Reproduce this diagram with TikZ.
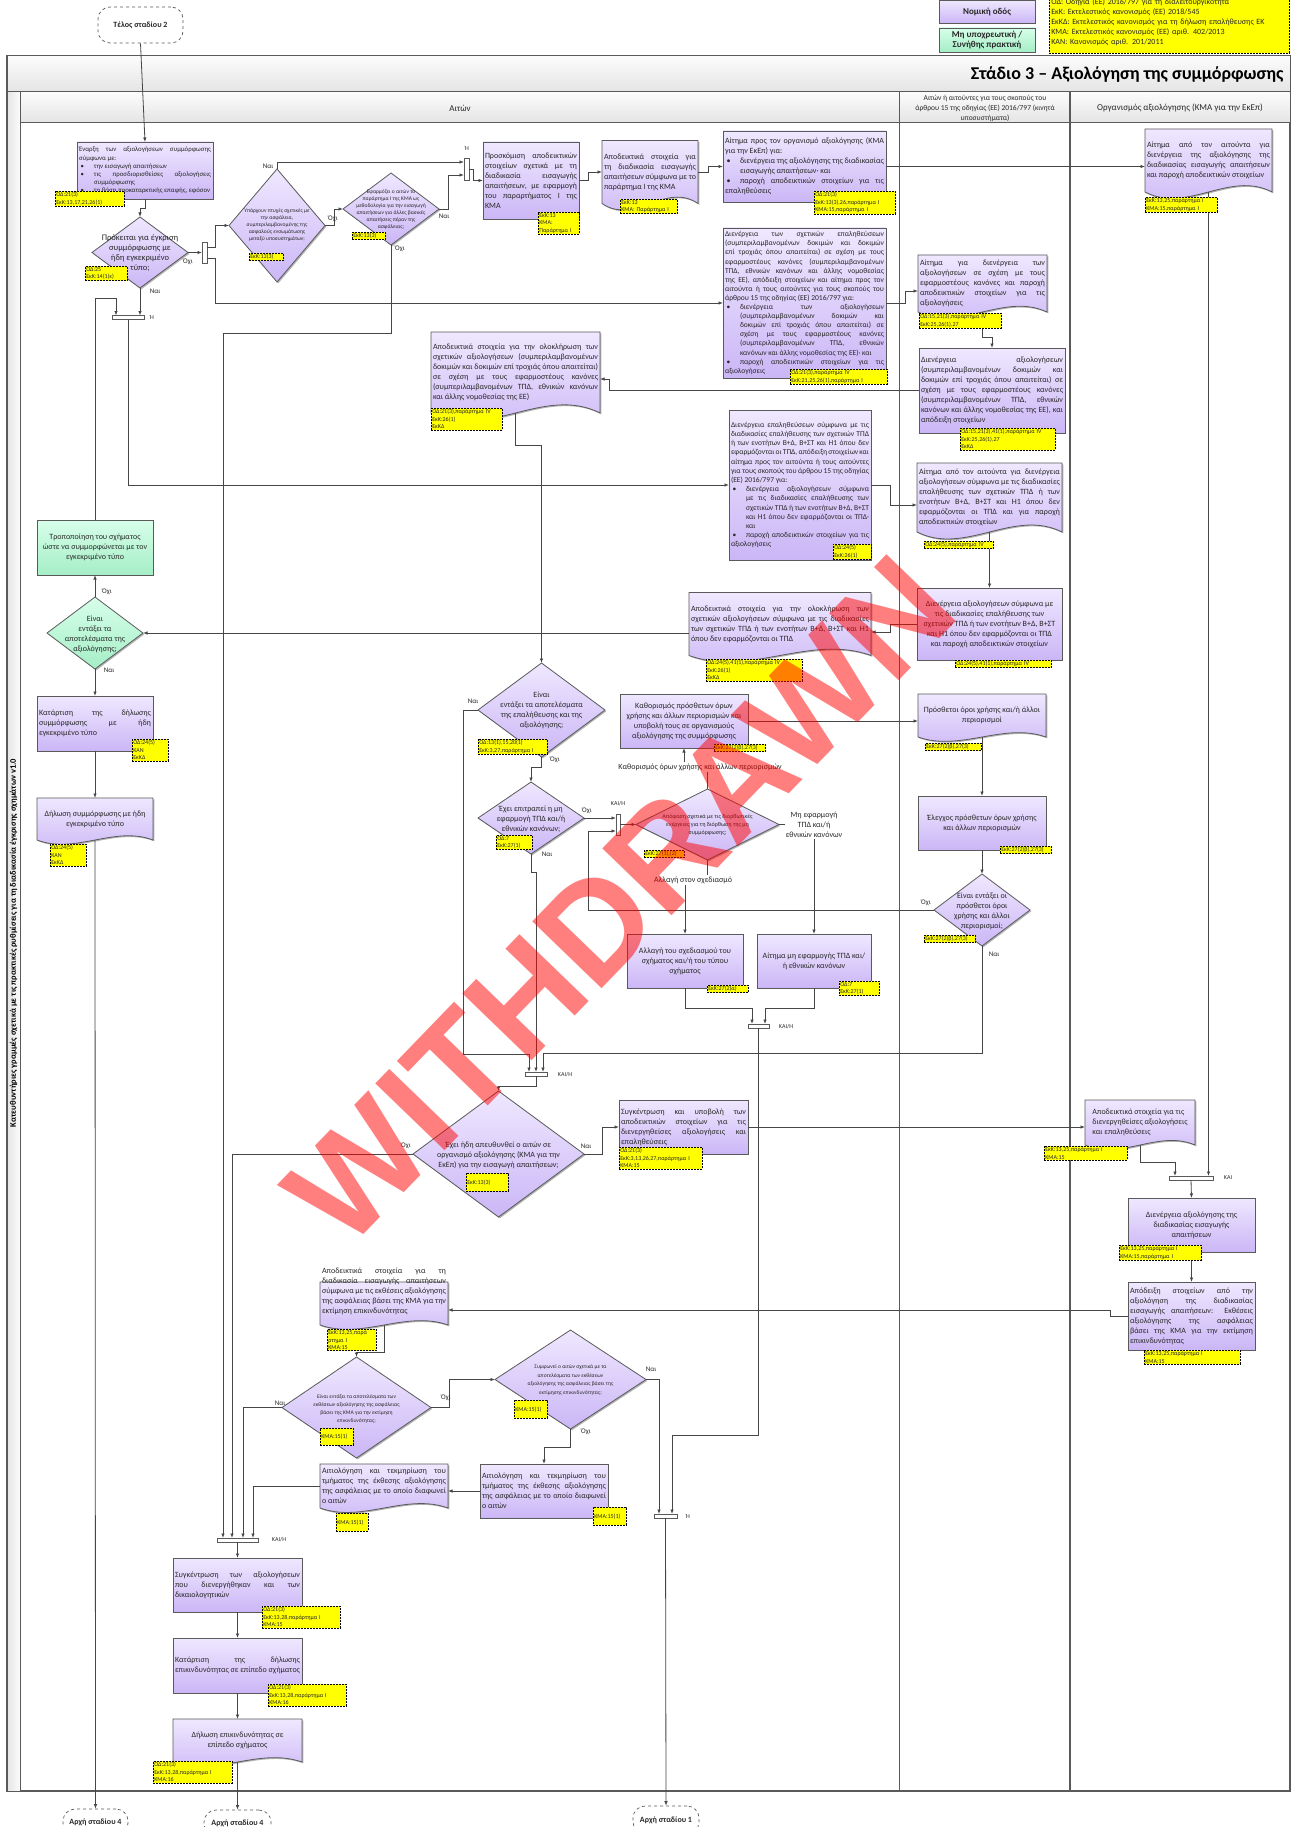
\documentclass[tikz,border=0pt]{standalone}
\usepackage{fontspec}
\setmainfont{Carlito}
\newfontfamily\wmfont{Liberation Sans}
\usetikzlibrary{arrows.meta,shapes.geometric,shadows}

\definecolor{pTop}{RGB}{239,232,255}
\definecolor{pBot}{RGB}{203,182,246}
\definecolor{gTop}{RGB}{215,255,234}
\definecolor{gBot}{RGB}{165,238,198}
\definecolor{bordC}{RGB}{90,90,90}
\definecolor{lineC}{RGB}{70,70,70}
\definecolor{txtC}{RGB}{40,40,40}
\definecolor{hdTop}{RGB}{252,252,252}
\definecolor{hdBot}{RGB}{228,228,228}
\definecolor{tagY}{RGB}{255,255,0}

\hyphenpenalty=10000
\exhyphenpenalty=10000
\tolerance=9999
\emergencystretch=10pt
\hbadness=10000
\hfuzz=60pt

\newcommand\fsz[2]{\fontsize{#1}{#2}\selectfont}
\newcommand\bitem{\par\hangindent=15pt\hangafter=1\noindent\makebox[15pt][l]{\hspace{1.5pt}\textbullet}}

\newdimen\wvL \newdimen\wvR \newdimen\wvB \newdimen\wvT
\newdimen\wvW \newdimen\wvA \newdimen\wvP \newdimen\wvQ
\newdimen\wvU \newdimen\wvD
\makeatletter
\pgfdeclareshape{document}{
  \inheritsavedanchors[from=rectangle]
  \inheritanchorborder[from=rectangle]
  \inheritanchor[from=rectangle]{center}
  \inheritanchor[from=rectangle]{north}
  \inheritanchor[from=rectangle]{south}
  \inheritanchor[from=rectangle]{east}
  \inheritanchor[from=rectangle]{west}
  \inheritanchor[from=rectangle]{north east}
  \inheritanchor[from=rectangle]{north west}
  \inheritanchor[from=rectangle]{south east}
  \inheritanchor[from=rectangle]{south west}
  \inheritanchor[from=rectangle]{mid}
  \inheritanchor[from=rectangle]{base}
  \backgroundpath{%
    \southwest\wvL=\pgf@x\wvB=\pgf@y
    \northeast\wvR=\pgf@x\wvT=\pgf@y
    \wvW=\wvR\advance\wvW by-\wvL\divide\wvW by 3
    \wvA=\wvT\advance\wvA by-\wvB\wvA=0.35\wvA
    \wvP=\wvR\advance\wvP by-\wvW
    \wvQ=\wvL\advance\wvQ by\wvW
    \wvU=\wvB\advance\wvU by\wvA
    \wvD=\wvB\advance\wvD by-\wvA
    \pgfpathmoveto{\pgfqpoint{\wvL}{\wvT}}%
    \pgfpathlineto{\pgfqpoint{\wvR}{\wvT}}%
    \pgfpathlineto{\pgfqpoint{\wvR}{\wvB}}%
    \pgfpathcurveto{\pgfqpoint{\wvP}{\wvU}}{\pgfqpoint{\wvQ}{\wvD}}{\pgfqpoint{\wvL}{\wvB}}%
    \pgfpathclose
  }
}
\makeatother

\begin{document}
\begin{tikzpicture}[x=1pt, y=-1pt,
  shade1/.style={drop shadow={shadow xshift=1.3pt, shadow yshift=-1.3pt, opacity=0.3, fill=black}},
  box/.style={rectangle, draw=bordC, line width=0.8pt, top color=pTop, bottom color=pBot, shade1, inner sep=2pt, outer sep=0pt, align=justify, text=txtC, font=\fsz{8}{10}},
  gbox/.style={box, top color=gTop, bottom color=gBot},
  doc/.style={shape=document, draw=bordC, line width=0.8pt, top color=pTop, bottom color=pBot, shade1, inner sep=2pt, outer sep=0pt, align=justify, text=txtC, font=\fsz{8}{10}},
  dec/.style={diamond, draw=bordC, line width=0.8pt, top color=pTop, bottom color=pBot, shade1, inner sep=0pt, outer sep=0pt},
  gdec/.style={dec, top color=gTop, bottom color=gBot},
  dtxt/.style={align=center, inner sep=0pt, text=txtC, font=\fsz{8}{10}},
  ref/.style={rectangle, draw=black, dash pattern=on 2pt off 1pt, line width=0.6pt, fill=tagY, inner sep=1pt, anchor=north west, align=left, font=\fsz{6}{7.6}, text=txtC},
  bar/.style={rectangle, draw=bordC, line width=0.7pt, fill=white, inner sep=0pt, outer sep=0pt},
  term/.style={rectangle, rounded corners=12pt, draw=bordC, dashed, line width=0.7pt, fill=white, font=\bfseries\fsz{8}{10}, text=txtC},
  yn/.style={inner sep=0pt, font=\fsz{7}{8}, text=txtC},
  gate/.style={inner sep=0pt, font=\fsz{6}{7}, text=txtC},
  lbl/.style={inner sep=1pt, font=\fsz{8}{10}, text=txtC, align=center},
  conn/.style={draw=lineC, line width=0.8pt},
  arr/.style={conn, -{Latex[length=4.5pt,width=3.5pt]}}]
\useasboundingbox (0,0) rectangle (1292,1827);

% pool and lanes
\path[draw=bordC, line width=1.2pt, fill=white] (7,56) rectangle (1290,1791);
\shade[top color=hdTop, bottom color=hdBot, draw=bordC, line width=1pt] (7,56) rectangle (1290,92);
\shade[top color=hdTop, bottom color=hdBot, draw=bordC, line width=1pt] (20,92) rectangle (1290,123);
\shade[left color=hdBot, right color=hdTop, draw=bordC, line width=1pt] (7,92) rectangle (20,1791);
\draw[bordC, line width=1pt] (899,92) -- (899,1791);
\draw[bordC, line width=1.4pt] (1070,92) -- (1070,1791);
\node[anchor=east, font=\bfseries\fsz{18}{20}] (title) at (1287,74) {Στάδιο 3 – Αξιολόγηση της συμμόρφωσης};
\node[font=\fsz{9}{11}, text=txtC] (lane1) at (460,108) {Αιτών};
\node[font=\fsz{7.5}{10}, text=txtC, align=center] (lane2) at (985,108) {Αιτών ή αιτούντες για τους σκοπούς του\\άρθρου 15 της οδηγίας (ΕΕ) 2016/797 (κινητά\\υποσυστήματα)};
\node[font=\fsz{9}{11}, text=txtC] (lane3) at (1180,108) {Οργανισμός αξιολόγησης (ΚΜΑ για την ΕκΕπ)};
\node[rotate=90, font=\bfseries\fsz{8.5}{10}] (pool) at (13.5,943) {Κατευθυντήριες γραμμές σχετικά με τις πρακτικές ρυθμίσεις για τη διαδικασία έγκρισης σχημάτων v1.0};

% legend
\node[box, align=center, font=\bfseries\fsz{9}{11}, minimum width=96, minimum height=23] (legLegal) at (987,11.5) {Νομική οδός};
\node[gbox, align=center, font=\bfseries\fsz{9}{10.5}, minimum width=96, minimum height=24, inner sep=1pt] (legOpt) at (987,40) {Μη υποχρεωτική /\\Συνήθης πρακτική};
\node[ref, font=\fsz{8}{10}, text width=236, minimum height=63, inner sep=2pt] (legAbbr) at (1049,-10) {ΟΔ: Οδηγία (ΕΕ) 2016/797 για τη διαλειτουργικότητα\\ΕκΚ: Εκτελεστικός κανονισμός (ΕΕ) 2018/545\\ΕκΚΔ: Εκτελεστικός κανονισμός για τη δήλωση επαλήθευσης ΕΚ\\ΚΜΑ: Εκτελεστικός κανονισμός (ΕΕ) αριθ. 402/2013\\ΚΑΝ: Κανονισμός αριθ. 201/2011};

% terminals
\node[term, minimum width=85, minimum height=36] (T2) at (140.5,25) {Τέλος σταδίου 2};
\node[term, minimum width=65, minimum height=26] (T4a) at (95.5,1822) {Αρχή σταδίου 4};
\node[term, minimum width=67, minimum height=26] (T4b) at (237.5,1823) {Αρχή σταδίου 4};
\node[term, minimum width=66, minimum height=28] (T1) at (666,1820) {Αρχή σταδίου 1};

% applicant lane
\node[box, minimum width=136, minimum height=57, text width=132, font=\fsz{6.8}{8.2}] (N1) at (145,170.5) {Έναρξη των αξιολογήσεων συμμόρφωσης σύμφωνα με:\bitem την εισαγωγή απαιτήσεων\bitem τις προσδιορισθείσες αξιολογήσεις συμμόρφωσης\bitem τη βάση προκαταρκτικής επαφής, εφόσον};
\node[dec, minimum width=96, minimum height=71] (D1) at (140,252.5) {};
\node[dtxt, font=\fsz{8.5}{10}] (D1t) at (140,253) {Πρόκειται για έγκριση\\συμμόρφωσης με\\ήδη εγκεκριμένο\\τύπο;};
\node[bar, minimum width=5, minimum height=21] (B1) at (204.5,252.5) {};
\node[bar, minimum width=32, minimum height=4] (B2) at (128,317.5) {};
\node[dec, minimum width=96, minimum height=113] (D2) at (277,225.5) {};
\node[dtxt, font=\fsz{5.5}{7}] (D2t) at (277,225) {Υπάρχουν πτυχές σχετικές με\\την ασφάλεια,\\συμπεριλαμβανομένης της\\ασφαλούς ενσωμάτωσης\\μεταξύ υποσυστημάτων;};
\node[dec, minimum width=96, minimum height=72] (D3) at (391,209) {};
\node[dtxt, font=\fsz{5.5}{7}] (D3t) at (391,210) {Εφαρμόζει ο αιτών το\\παράρτημα I της ΚΜΑ ως\\μεθοδολογία για την εισαγωγή\\απαιτήσεων για άλλες βασικές\\απαιτήσεις πέραν της\\ασφάλειας;};
\node[bar, minimum width=5, minimum height=22] (B3) at (466.5,169) {};
\node[box, minimum width=96, minimum height=77, text width=92] (N2) at (531,180.5) {Προσκόμιση αποδεικτικών στοιχείων σχετικά με τη διαδικασία εισαγωγής απαιτήσεων, με εφαρμογή του παραρτήματος I της ΚΜΑ};
\node[doc, minimum width=96, minimum height=63, text width=92] (N3) at (650,172) {Αποδεικτικά στοιχεία για τη διαδικασία εισαγωγής απαιτήσεων σύμφωνα με το παράρτημα I της ΚΜΑ};
\node[box, minimum width=163, minimum height=71, text width=159] (N4) at (804.5,166.5) {Αίτημα προς τον οργανισμό αξιολόγησης (ΚΜΑ για την ΕκΕπ) για:\bitem διενέργεια της αξιολόγησης της διαδικασίας εισαγωγής απαιτήσεων· και\bitem παροχή αποδεικτικών στοιχείων για τις επαληθεύσεις};
\node[box, minimum width=163, minimum height=150, text width=159, font=\fsz{7.5}{9.1}] (N5) at (804.5,303) {Διενέργεια των σχετικών επαληθεύσεων (συμπεριλαμβανομένων δοκιμών και δοκιμών επί τροχιάς όπου απαιτείται) σε σχέση με τους εφαρμοστέους κανόνες (συμπεριλαμβανομένων ΤΠΔ, εθνικών κανόνων και άλλης νομοθεσίας της ΕΕ), απόδειξη στοιχείων και αίτημα προς τον αιτούντα ή τους αιτούντες για τους σκοπούς του άρθρου 15 της οδηγίας (ΕΕ) 2016/797 για:\bitem διενέργεια των αξιολογήσεων (συμπεριλαμβανομένων δοκιμών και δοκιμών επί τροχιάς όπου απαιτείται) σε σχέση με τους εφαρμοστέους κανόνες (συμπεριλαμβανομένων ΤΠΔ, εθνικών κανόνων και άλλης νομοθεσίας της ΕΕ)· και\bitem παροχή αποδεικτικών στοιχείων για τις αξιολογήσεις};
\node[doc, minimum width=169, minimum height=81, text width=165] (N6) at (515.5,372.5) {Αποδεικτικά στοιχεία για την ολοκλήρωση των σχετικών αξιολογήσεων (συμπεριλαμβανομένων δοκιμών και δοκιμών επί τροχιάς όπου απαιτείται) σε σχέση με τους εφαρμοστέους κανόνες (συμπεριλαμβανομένων ΤΠΔ, εθνικών κανόνων και άλλης νομοθεσίας της ΕΕ)};
\node[box, minimum width=142, minimum height=150, text width=138, font=\fsz{7.5}{9.2}] (N7) at (800,485) {Διενέργεια επαληθεύσεων σύμφωνα με τις διαδικασίες επαλήθευσης των σχετικών ΤΠΔ ή των ενοτήτων Β+Δ, Β+ΣΤ και Η1 όπου δεν εφαρμόζονται οι ΤΠΔ, απόδειξη στοιχείων και αίτημα προς τον αιτούντα ή τους αιτούντες για τους σκοπούς του άρθρου 15 της οδηγίας (ΕΕ) 2016/797 για:\bitem διενέργεια αξιολογήσεων σύμφωνα με τις διαδικασίες επαλήθευσης των σχετικών ΤΠΔ ή των ενοτήτων Β+Δ, Β+ΣΤ και Η1 όπου δεν εφαρμόζονται οι ΤΠΔ· και\bitem παροχή αποδεικτικών στοιχείων για τις αξιολογήσεις};
\node[doc, minimum width=182, minimum height=63, text width=178] (N8) at (780,624) {Αποδεικτικά στοιχεία για την ολοκλήρωση των σχετικών αξιολογήσεων σύμφωνα με τις διαδικασίες των σχετικών ΤΠΔ ή των ενοτήτων Β+Δ, Β+ΣΤ και Η1 όπου δεν εφαρμόζονται οι ΤΠΔ};
\node[gbox, minimum width=116, minimum height=55, align=center] (G1) at (95,547.5) {Τροποποίηση του σχήματος\\ώστε να συμμορφώνεται με τον\\εγκεκριμένο τύπο};
\node[gdec, minimum width=96, minimum height=72] (DG) at (95,633) {};
\node[dtxt] (DGt) at (95,634) {Είναι\\εντάξει τα\\αποτελέσματα της\\αξιολόγησης;};
\node[box, minimum width=116, minimum height=55, text width=112] (N9) at (95,723.5) {Κατάρτιση της δήλωσης συμμόρφωσης με ήδη εγκεκριμένο τύπο};
\node[doc, minimum width=116, minimum height=42, align=center] (N10) at (95,819) {Δήλωση συμμόρφωσης με ήδη\\εγκεκριμένο τύπο};
\node[dec, minimum width=127, minimum height=94] (D4) at (541.5,710) {};
\node[dtxt] (D4t) at (541.5,710) {Είναι\\εντάξει τα αποτελέσματα\\της επαλήθευσης και της\\αξιολόγησης;};
\node[dec, minimum width=106, minimum height=72] (D5) at (531,818) {};
\node[dtxt] (D5t) at (531,819) {Έχει επιτραπεί η μη\\εφαρμογή ΤΠΔ και/ή\\εθνικών κανόνων;};
\node[bar, minimum width=4, minimum height=21] (B4) at (618,824.5) {};
\node[dec, minimum width=143, minimum height=71] (D6) at (707.5,824.5) {};
\node[dtxt, font=\fsz{6}{8.3}] (D6t) at (707.5,825) {Απόφαση σχετικά με τις διορθωτικές\\ενέργειες για τη διόρθωση της μη\\συμμόρφωσης;};
\node[box, minimum width=128, minimum height=54, align=center] (N11) at (684,721) {Καθορισμός πρόσθετων όρων\\χρήσης και άλλων περιορισμών και\\υποβολή τους σε οργανισμούς\\αξιολόγησης της συμμόρφωσης};
\node[lbl] (lblUse) at (700,767) {Καθορισμός όρων χρήσης και άλλων περιορισμών};
\node[lbl] (lblExempt) at (814,825) {Μη εφαρμογή\\ΤΠΔ και/ή\\εθνικών κανόνων};
\node[lbl] (lblDesign) at (693,880) {Αλλαγή στον σχεδιασμό};
\node[box, minimum width=116, minimum height=54, align=center] (N12) at (685,961) {Αλλαγή του σχεδιασμού του\\σχήματος και/ή του τύπου\\σχήματος};
\node[box, minimum width=114, minimum height=54, align=center] (N13) at (814,961) {Αίτημα μη εφαρμογής ΤΠΔ και/\\ή εθνικών κανόνων};
\node[bar, minimum width=21, minimum height=4] (B6) at (758.5,1026) {};
\node[bar, minimum width=22, minimum height=4] (B5) at (536,1074) {};
\node[dec, minimum width=171, minimum height=126] (D8) at (498.5,1154) {};
\node[dtxt] (D8t) at (498.5,1155) {Έχει ήδη απευθυνθεί ο αιτών σε\\οργανισμό αξιολόγησης (ΚΜΑ για την\\ΕκΕπ) για την εισαγωγή απαιτήσεων;};
\node[box, minimum width=129, minimum height=54, text width=125] (N14) at (683.5,1127) {Συγκέντρωση και υποβολή των αποδεικτικών στοιχείων για τις διενεργηθείσες αξιολογήσεις και επαληθεύσεις};
\node[doc, minimum width=128, minimum height=43] (N15) at (384,1303.5) {};
\node[dtxt, align=justify, text width=124] (N15t) at (384,1291) {Αποδεικτικά στοιχεία για τη διαδικασία εισαγωγής απαιτήσεων σύμφωνα με τις εκθέσεις αξιολόγησης της ασφάλειας βάσει της ΚΜΑ για την εκτίμηση επικινδυνότητας};
\node[dec, minimum width=149, minimum height=101] (D9) at (356.5,1407.5) {};
\node[dtxt, font=\fsz{5.5}{8}] (D9t) at (356.5,1409) {Είναι εντάξει τα αποτελέσματα των\\εκθέσεων αξιολόγησης της ασφάλειας\\βάσει της ΚΜΑ για την εκτίμηση\\επικινδυνότητας;};
\node[dec, minimum width=151, minimum height=99] (D10) at (570.5,1379.5) {};
\node[dtxt, font=\fsz{5.5}{8.5}] (D10t) at (570.5,1380) {Συμφωνεί ο αιτών σχετικά με τα\\αποτελέσματα των εκθέσεων\\αξιολόγησης της ασφάλειας βάσει της\\εκτίμησης επικινδυνότητας;};
\node[box, minimum width=128, minimum height=54, text width=124] (N16) at (544,1491) {Αιτιολόγηση και τεκμηρίωση του τμήματος της έκθεσης αξιολόγησης της ασφάλειας με το οποίο διαφωνεί ο αιτών};
\node[doc, minimum width=128, minimum height=44, text width=124] (N17) at (384,1486) {Αιτιολόγηση και τεκμηρίωση του τμήματος της έκθεσης αξιολόγησης της ασφάλειας με το οποίο διαφωνεί ο αιτών};
\node[bar, minimum width=41, minimum height=4] (B7) at (237.5,1540) {};
\node[bar, minimum width=23, minimum height=4] (B8) at (665.5,1516) {};
\node[box, minimum width=129, minimum height=54, text width=125] (N18) at (237.5,1585) {Συγκέντρωση των αξιολογήσεων που διενεργήθηκαν και των δικαιολογητικών};
\node[box, minimum width=129, minimum height=55, text width=125] (N19) at (237.5,1665.5) {Κατάρτιση της δήλωσης επικινδυνότητας σε επίπεδο σχήματος};
\node[doc, minimum width=129, minimum height=43, align=center] (N20) at (237.5,1740.5) {Δήλωση επικινδυνότητας σε\\επίπεδο σχήματος};

% article 15 lane
\node[doc, minimum width=129, minimum height=57, text width=125] (M1) at (982.5,283.5) {Αίτημα για διενέργεια των αξιολογήσεων σε σχέση με τους εφαρμοστέους κανόνες και παροχή αποδεικτικών στοιχείων για τις αξιολογήσεις};
\node[box, minimum width=146, minimum height=85, text width=142] (M2) at (992,390.5) {Διενέργεια αξιολογήσεων (συμπεριλαμβανομένων δοκιμών και δοκιμών επί τροχιάς όπου απαιτείται) σε σχέση με τους εφαρμοστέους κανόνες (συμπεριλαμβανομένων ΤΠΔ, εθνικών κανόνων και άλλης νομοθεσίας της ΕΕ), και απόδειξη στοιχείων};
\node[doc, minimum width=145, minimum height=69, text width=141] (M3) at (989.5,497.5) {Αίτημα από τον αιτούντα για διενέργεια αξιολογήσεων σύμφωνα με τις διαδικασίες επαλήθευσης των σχετικών ΤΠΔ ή των ενοτήτων Β+Δ, Β+ΣΤ και Η1 όπου δεν εφαρμόζονται οι ΤΠΔ και για παροχή αποδεικτικών στοιχείων};
\node[box, minimum width=145, minimum height=72, align=center] (M4) at (989.5,624) {Διενέργεια αξιολογήσεων σύμφωνα με\\τις διαδικασίες επαλήθευσης των\\σχετικών ΤΠΔ ή των ενοτήτων Β+Δ, Β+ΣΤ\\και Η1 όπου δεν εφαρμόζονται οι ΤΠΔ\\και παροχή αποδεικτικών στοιχείων};
\node[doc, minimum width=128, minimum height=43, align=center] (M5) at (982,715.5) {Πρόσθετοι όροι χρήσης και/ή άλλοι\\περιορισμοί};
\node[box, minimum width=128, minimum height=54, align=center] (M6) at (982,823) {Έλεγχος πρόσθετων όρων χρήσης\\και άλλων περιορισμών};
\node[dec, minimum width=96, minimum height=72] (D7) at (982,910) {};
\node[dtxt] (D7t) at (982,911) {Είναι εντάξει οι\\πρόσθετοι όροι\\χρήσης και άλλοι\\περιορισμοί;};

% assessment body lane
\node[doc, minimum width=127, minimum height=63, text width=123] (R1) at (1208.5,160.5) {Αίτημα από τον αιτούντα για διενέργεια της αξιολόγησης της διαδικασίας εισαγωγής απαιτήσεων και παροχή αποδεικτικών στοιχείων};
\node[doc, minimum width=110, minimum height=45, align=left] (R2) at (1140,1122.5) {Αποδεικτικά στοιχεία για τις\\διενεργηθείσες αξιολογήσεις\\και επαληθεύσεις};
\node[bar, minimum width=44, minimum height=4] (B9) at (1191,1178) {};
\node[box, minimum width=127, minimum height=54, align=center] (R3) at (1191.5,1225) {Διενέργεια αξιολόγησης της\\διαδικασίας εισαγωγής\\απαιτήσεων};
\node[box, minimum width=127, minimum height=68, text width=123] (R4) at (1191.5,1316) {Απόδειξη στοιχείων από την αξιολόγηση της διαδικασίας εισαγωγής απαιτήσεων: Εκθέσεις αξιολόγησης της ασφάλειας βάσει της ΚΜΑ για την εκτίμηση επικινδυνότητας};

% connectors
\draw[arr] (T2.south) -- (N1.north);
\draw[arr] (N1.south) -- ++(0,9) -| (D1.north);
\draw[arr] (D1.east) -- (B1.west);
\draw[arr] (B1.east |- 0,247) -- (215,247) |- (D2.west);
\draw[arr] (B1.east |- 0,258) -- (215,258) |- (N5.west);
\draw[arr] (D1.south) -- (D1.south |- B2.north);
\draw[arr] (G1.north) |- (116,298) -- (B2.north -| 116,0);
\draw[arr] (B2.south) |- (N7.west);
\draw[arr] (D2.north) |- (B3.west |- 0,162);
\draw[arr] (D2.east) -- ++(9,0) |- (D3.west);
\draw[arr] (D3.east) -- ++(9,0) |- (B3.west |- 0,175);
\draw[arr] (D3.south) |- (223,333) -- (B7.north -| 223,0);
\draw[arr] (B3.east) -- ++(4,0) |- (N2.west);
\draw[arr] (N2.east) -- ++(9,0) |- (N3.west);
\draw[arr] (N3.east) -- ++(10,0) |- (N4.west);
\draw[arr] (N4.east) -- (N4.east -| R1.west);
\draw[arr] (R1.south) -- (R1.south |- B9.north);
\draw[arr] (N5.east) -- ++(19,0) |- (M1.west |- 0,291);
\draw[arr] (M1.south) -- ++(0,25) -| (M2.north);
\draw[arr] (M2.west) -- (609,390.5) |- (N6.east |- 0,379);
\draw[arr] (N6.south) -- ++(0,32) -| (D4.north);
\draw[arr] (N7.east) -- ++(19,0) |- (M3.west |- 0,505);
\draw[arr] (M3.south) -- (M4.north);
\draw[arr] (M4.west) -- (890,624) |- (N8.east |- 0,632);
\draw[arr] (N8.west |- 0,633) -- (DG.east);
\draw[arr] (DG.north) -- (G1.south);
\draw[arr] (DG.south) -- (N9.north);
\draw[arr] (N9.south) -- (N10.north);
\draw[arr] (N10.south) -- (T4a.north);
\draw[arr] (D4.west) -- (463,710) |- (529,1054) -- (B5.north -| 529,0);
\draw[arr] (D4.south) -- ++(0,10) -| (D5.north);
\draw[arr] (D5.east) -- (B4.west |- D5.east);
\draw[arr] (D5.south) -- ++(0,18) -| (B5.north);
\draw[arr] (D7.west) -- (588,910) |- (B4.west |- 0,831);
\draw[arr] (B4.east) -- (D6.west);
\draw[conn] (D6.north) -- (D6.north |- lblUse.south);
\draw[arr] (N11.south |- lblUse.north) -- (N11.south);
\draw[conn] (D6.east) -- (lblExempt.west |- D6.east);
\draw[arr] (lblExempt.south) -- (N13.north);
\draw[conn] (D6.south) -- (D6.south |- lblDesign.north);
\draw[arr] (N12.north |- lblDesign.south) -- (N12.north);
\draw[arr] (N11.east) -- (N11.east -| M5.west);
\draw[arr] (M5.south) -- (M6.north);
\draw[arr] (M6.south) -- (D7.north);
\draw[arr] (D7.south) |- (543,1053) -- (B5.north -| 543,0);
\draw[arr] (N12.south) |- (752,1008) -- (B6.north -| 752,0);
\draw[arr] (N13.south) |- (765,1008) -- (B6.north -| 765,0);
\draw[arr] (B6.south) |- (672,1435) -- (B8.north -| 672,0);
\draw[arr] (B5.south) -- ++(0,10) -| (D8.north);
\draw[arr] (D8.east) -- ++(18,0) |- (N14.west);
\draw[arr] (D8.west) -| (B7.north -| 232,0);
\draw[arr] (N14.east) -- (N14.east -| R2.west);
\draw[arr] (R2.south) |- (1175,1162) -- (B9.north -| 1175,0);
\draw[arr] (B9.south) -- (R3.north);
\draw[arr] (R3.south) -- (R4.north);
\draw[arr] (R4.west) -- (1110,1316) |- (N15.east |- 0,1310);
\draw[arr] (N15.south) -- ++(0,27) -| (D9.north);
\draw[arr] (D9.west) -| (B7.north -| 243,0);
\draw[arr] (D9.east) -- ++(18,0) |- (D10.west);
\draw[arr] (D10.east) -| (B8.north -| 659,0);
\draw[arr] (D10.south) -- ++(0,18) -| (N16.north);
\draw[arr] (N16.west) -- (N16.west -| N17.east);
\draw[arr] (N17.west) -| (B7.north -| 253,0);
\draw[arr] (B7.south) -- (N18.north);
\draw[arr] (N18.south) -- (N19.north);
\draw[arr] (N19.south) -- (N20.north);
\draw[arr] (N20.south) -- (T4b.north);
\draw[arr] (B8.south) -- (T1.north);

% branch labels
\node[yn] (yn1) at (188,262) {Όχι};
\node[yn] (yn2) at (155,291) {Ναι};
\node[gate] (g1) at (152,318) {Ή};
\node[yn] (yn3) at (268,166) {Ναι};
\node[yn] (yn4) at (333,219) {Όχι};
\node[yn] (yn5) at (400,249) {Όχι};
\node[yn] (yn6) at (444,216) {Ναι};
\node[gate] (g2) at (467,149) {Ή};
\node[yn] (yn7) at (107,592) {Όχι};
\node[yn] (yn8) at (109,670) {Ναι};
\node[yn] (yn9) at (473,701) {Ναι};
\node[yn] (yn10) at (555,760) {Όχι};
\node[yn] (yn11) at (587,811) {Όχι};
\node[yn] (yn12) at (547,854) {Ναι};
\node[gate] (g3) at (618,804) {ΚΑΙ/Η};
\node[yn] (yn13) at (926,903) {Όχι};
\node[yn] (yn14) at (994,954) {Ναι};
\node[gate] (g4) at (786,1027) {ΚΑΙ/Η};
\node[gate] (g5) at (565,1075) {ΚΑΙ/Η};
\node[yn] (yn15) at (586,1146) {Ναι};
\node[yn] (yn16) at (406,1146) {Όχι};
\node[gate] (g6) at (1228,1178) {ΚΑΙ};
\node[yn] (yn17) at (280,1403) {Ναι};
\node[yn] (yn18) at (446,1398) {Όχι};
\node[yn] (yn19) at (651,1369) {Ναι};
\node[yn] (yn20) at (586,1432) {Όχι};
\node[gate] (g7) at (279,1540) {ΚΑΙ/Η};
\node[gate] (g8) at (688,1516) {Ή};

% legal references
\node[ref, text width=67] (rN1) at (55,191) {ΟΔ:21(3)\\ΕκΚ:13,17,21,26(1)};
\node[ref, text width=40] (rD1) at (85,266) {ΟΔ:25\\ΕκΚ:14(1)ε)};
\node[ref, text width=32] (rD2) at (249,253) {ΕκΚ:13(3)};
\node[ref, text width=31] (rD3) at (352,232) {ΕκΚ:13(3)};
\node[ref, text width=39] (rN2) at (538,212) {ΕκΚ:13\\ΚΜΑ:\\Παράρτημα~I};
\node[ref, text width=55] (rN3) at (620,199) {ΕκΚ:13\\ΚΜΑ:~Παράρτημα~I};
\node[ref, text width=79] (rN4) at (814,191) {ΟΔ:21(3)\\ΕκΚ:13(3),26,παράρτημα~I\\ΚΜΑ:15,παράρτημα~I};
\node[ref, text width=70] (rR1) at (1145,197) {ΕκΚ:13,25,παράρτημα~I\\ΚΜΑ:15,παράρτημα~I};
\node[ref, text width=95] (rN5) at (790,369) {ΟΔ:21(3),παράρτημα~IV\\ΕκΚ:21,25,26(1),παράρτημα~I};
\node[ref, text width=80] (rM1) at (919,313) {ΟΔ:15,21(3),παράρτημα~IV\\ΕκΚ:25,26(1),27};
\node[ref, text width=93] (rM2) at (960,428) {ΟΔ:15,21(3),41(1),παράρτημα~IV\\ΕκΚ:25,26(1),27\\ΕκΚΔ};
\node[ref, text width=69] (rN6) at (431,408) {ΟΔ:21(3),παράρτημα~IV\\ΕκΚ:26(1)\\ΕκΚΔ};
\node[ref, text width=36] (rN7) at (833,544) {ΟΔ:24(5)\\ΕκΚ:26(1)};
\node[ref, text width=67] (rM3) at (924,541) {ΟΔ:24(5),παράρτημα~IV};
\node[ref, text width=94] (rM4) at (955,660) {ΟΔ:24(5),41(1),παράρτημα~IV};
\node[ref, text width=94] (rN8) at (706,659) {ΟΔ:24(5),41(1),παράρτημα~IV\\ΕκΚ:26(1)\\ΕκΚΔ};
\node[ref, text width=34] (rN9) at (132,739) {ΟΔ:24(5)\\ΚΑΝ\\ΕκΚΔ};
\node[ref, text width=34] (rN10) at (50,844) {ΟΔ:24(5)\\ΚΑΝ\\ΕκΚΔ};
\node[ref, text width=67] (rD4) at (478,739) {ΟΔ:13(1),15,20(1)\\ΕκΚ:3,27,παράρτημα~I};
\node[ref, text width=34] (rD5) at (496,835) {ΟΔ:7\\ΕκΚ:27(1)};
\node[ref, text width=38] (rD6) at (644,850) {ΕκΚ:27(1),(2)};
\node[ref, text width=49] (rN11) at (714,744) {ΕκΚ:27(2)β),27(3)};
\node[ref, text width=54] (rM5) at (925,743) {ΕκΚ:27(2)β),27(3)};
\node[ref, text width=49] (rM6) at (1000,846) {ΕκΚ:27(2)β),27(3)};
\node[ref, text width=49] (rD7) at (924,935) {ΕκΚ:27(2)β),27(3)};
\node[ref, text width=39] (rN12) at (707,985) {ΕκΚ:27(2)α)};
\node[ref, text width=38] (rN13) at (839,981) {ΟΔ:7\\ΕκΚ:27(1)};
\node[ref, text width=40, minimum height=18] (rD8) at (466,1173) {ΕκΚ:13(3)};
\node[ref, text width=81] (rN14) at (619,1147) {ΟΔ:21(3)\\ΕκΚ:3,13,26,27,παράρτημα~I\\ΚΜΑ:15};
\node[ref, text width=81] (rR2) at (1044,1146) {ΕκΚ:13,25,παράρτημα~I\\ΚΜΑ:15};
\node[ref, text width=80] (rR3) at (1119,1245) {ΕκΚ:13,25,παράρτημα~I\\ΚΜΑ:15,παράρτημα~I};
\node[ref, text width=94] (rR4) at (1144,1350) {ΕκΚ:13,25,παράρτημα~I\\ΚΜΑ:15};
\node[ref, text width=47] (rN15) at (327,1329) {ΕκΚ:13,25,παρά\\ρτημα~I\\ΚΜΑ:15};
\node[ref, text width=31, minimum height=17] (rD9) at (320,1428) {ΚΜΑ:15(1)};
\node[ref, text width=31, minimum height=18] (rD10) at (514,1400) {ΚΜΑ:15(1)};
\node[ref, text width=31, minimum height=18] (rN16) at (593,1507) {ΚΜΑ:15(1)};
\node[ref, text width=30, minimum height=18] (rN17) at (336,1513) {ΚΜΑ:15(1)};
\node[ref, text width=76] (rN18) at (262,1606) {ΟΔ:21(3)\\ΕκΚ:13,28,παράρτημα~I\\ΚΜΑ:15};
\node[ref, text width=76] (rN19) at (268,1684) {ΟΔ:21(3)\\ΕκΚ:13,28,παράρτημα~I\\ΚΜΑ:16};
\node[ref, text width=77] (rN20) at (153,1761) {ΟΔ:21(3)\\ΕκΚ:13,28,παράρτημα~I\\ΚΜΑ:16};

% watermark
\node[rotate=46, text=red, text opacity=0.5, inner sep=0pt, font=\wmfont\bfseries\fsz{140}{140}] (wm) at (620,900) {WITHDRAWN};
\end{tikzpicture}
\end{document}
